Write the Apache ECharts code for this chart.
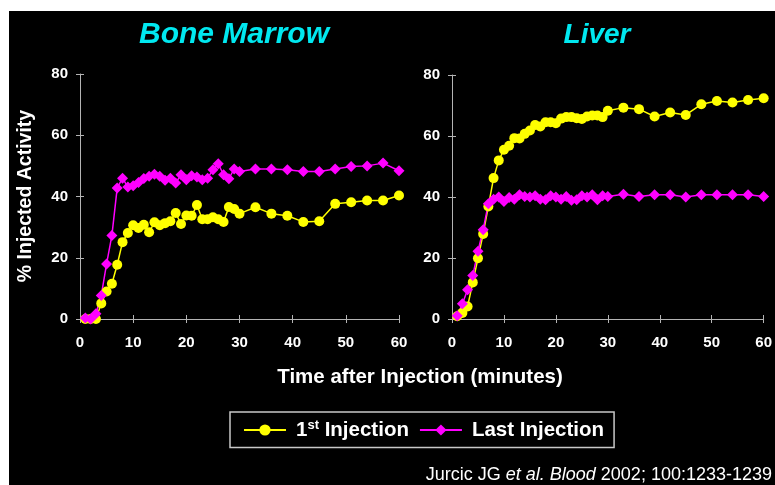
<!DOCTYPE html>
<html>
<head>
<meta charset="utf-8">
<script src="https://cdn.jsdelivr.net/npm/echarts@6/dist/echarts.min.js"></script>
<style>
  html, body { margin: 0; padding: 0; background: #fff; }
  #main { position: absolute; left: 9px; top: 11px; width: 766px; height: 474px; background: #000; }
</style>
</head>
<body>
<div id="main"></div>
<script>
// sample times (minutes)
var times = [1, 2, 3, 4, 5, 6, 7, 8, 9, 10, 11, 12, 13, 14, 15, 16, 17, 18, 19, 20,
    21, 22, 23, 24, 25, 26, 27, 28, 29, 30, 33, 36, 39, 42, 45, 48, 51, 54, 57, 60];
var xTicks = [0, 10, 20, 30, 40, 50, 60];
var yTicks = [0, 20, 40, 60, 80];

// Bone Marrow
var marrowFirst = [0, 0, 0, 5.1, 9, 11.5, 17.7, 25.1, 28.1, 30.6, 29.7, 30.8, 28.3, 31.6, 30.6, 31.3, 31.9, 34.6, 31, 33.8,
    33.7, 37.2, 32.6, 32.6, 33.2, 32.6, 31.7, 36.6, 35.9, 34.4, 36.5, 34.4, 33.7, 31.7, 31.9, 37.6, 38.1, 38.7, 38.7, 40.3];
var marrowLast = [0.3, 0, 1.7, 7.7, 18, 27.3, 42.8, 46, 43.1, 43.5, 44.6, 45.9, 46.6, 47.3, 46.6, 45.3, 46, 44.4, 47.1, 45.5,
    46.8, 46.4, 45.5, 46, 48.7, 50.7, 47.1, 45.8, 49, 48.2, 49, 49, 48.7, 48.2, 48.2, 49, 49.8, 50, 50.9, 48.4];

// Liver
var liverFirst = [0.9, 2, 4.1, 12, 19.9, 27.9, 36.9, 46.2, 52, 55.5, 56.8, 59.3, 59.2, 60.7, 61.8, 63.6, 63.1, 64.5, 64.5, 64.2,
    65.7, 66.2, 66.2, 65.8, 65.6, 66.4, 66.7, 66.7, 66.2, 68.3, 69.3, 68.8, 66.4, 67.7, 66.9, 70.4, 71.5, 71, 71.8, 72.4];
var liverLast = [1.1, 5, 9.6, 14.3, 22.2, 29.3, 37.8, 39.3, 40, 38.5, 39.8, 39.3, 40.7, 40.2, 40, 40.4, 39.3, 39.1, 40.4, 40,
    39.3, 40.2, 38.9, 39.1, 40.4, 40, 40.7, 39.1, 40.4, 40.2, 40.9, 40.2, 40.7, 40.7, 40, 40.7, 40.7, 40.7, 40.7, 40.2];

var YELLOW = '#ffff00', MAGENTA = '#ff00ff', AXIS = '#b4b4b4', CYAN = '#00e8f0';
var FONT = 'Liberation Sans, Arial, sans-serif';
var OX = 9, OY = 11; // chart div offset in page

function pairs(xs, ys) {
    var out = [];
    for (var i = 0; i < xs.length; i++) out.push([xs[i], ys[i]]);
    return out;
}

var chart = echarts.init(document.getElementById('main'));

var grids = [
    {left: 80 - OX, top: 74 - OY, width: 319, height: 245},
    {left: 452 - OX, top: 75 - OY, width: 315, height: 244}
];

// two x axes / y axes per grid: one with outside ticks + labels, one with inside ticks, so ticks cross the line
var xAxes = [], yAxes = [];
for (var g = 0; g < 2; g++) {
    for (var k = 0; k < 2; k++) {
        xAxes.push({
            type: 'value', gridIndex: g, min: 0, max: 60, interval: 10, position: 'bottom',
            axisLine: {show: k == 0, lineStyle: {color: AXIS, width: 1}},
            axisTick: {show: true, inside: k == 1, length: 4, lineStyle: {color: AXIS}},
            axisLabel: {show: k == 0, margin: 16, color: '#fff', fontWeight: 'bold', fontSize: 15, fontFamily: FONT},
            splitLine: {show: false}
        });
        yAxes.push({
            type: 'value', gridIndex: g, min: 0, max: 80, interval: 20, position: 'left',
            axisLine: {show: k == 0, lineStyle: {color: AXIS, width: 1}},
            axisTick: {show: true, inside: k == 1, length: 4, lineStyle: {color: AXIS}},
            axisLabel: {show: k == 0, margin: 12, color: '#fff', fontWeight: 'bold', fontSize: 15, fontFamily: FONT},
            splitLine: {show: false}
        });
    }
}

function lineSeries(name, idx, color, symbol, size, data) {
    return {
        name: name, type: 'line', xAxisIndex: idx, yAxisIndex: idx,
        data: data, symbol: symbol, symbolSize: size, showSymbol: true,
        lineStyle: {color: color, width: 1.5},
        itemStyle: {color: color},
        animation: false
    };
}

var option = {
    backgroundColor: '#000',
    animation: false,
    grid: grids,
    xAxis: xAxes,
    yAxis: yAxes,
    legend: {
        data: ['1st Injection', 'Last Injection'],
        left: 230 - OX, top: 412 - OY,
        padding: [7, 10, 7, 13],
        itemGap: 10, itemWidth: 42, itemHeight: 14,
        borderColor: '#c8c8c8', borderWidth: 1.5,
        selectedMode: false,
        formatter: function (name) {
            if (name == '1st Injection') return '{b|1}{s|st}{b| Injection}';
            return '{b|' + name + '}';
        },
        textStyle: {
            color: '#fff', fontSize: 20.5, fontWeight: 'bold', fontFamily: FONT, padding: [0, 0, 0, 5],
            rich: {
                b: {color: '#fff', fontSize: 20.5, fontWeight: 'bold', fontFamily: FONT},
                s: {color: '#fff', fontSize: 13, fontWeight: 'bold', fontFamily: FONT, verticalAlign: 'top', padding: [0, 0, 9, 0]}
            }
        }
    },
    graphic: [
        {type: 'text', x: 234 - OX, y: 35 - OY,
            style: {text: 'Bone Marrow', fill: CYAN, fontSize: 30, fontWeight: 'bold', fontStyle: 'italic',
                fontFamily: FONT, align: 'center', verticalAlign: 'middle'}},
        {type: 'text', x: 597 - OX, y: 35 - OY,
            style: {text: 'Liver', fill: CYAN, fontSize: 28, fontWeight: 'bold', fontStyle: 'italic',
                fontFamily: FONT, align: 'center', verticalAlign: 'middle'}},
        {type: 'text', x: 26 - OX, y: 196 - OY, rotation: Math.PI / 2,
            style: {text: '% Injected Activity', fill: '#fff', fontSize: 19.5, fontWeight: 'bold', fontFamily: FONT,
                align: 'center', verticalAlign: 'middle'}},
        {type: 'text', x: 420 - OX, y: 377 - OY,
            style: {text: 'Time after Injection (minutes)', fill: '#fff', fontSize: 20.5, fontWeight: 'bold',
                fontFamily: FONT, align: 'center', verticalAlign: 'middle'}},
        {type: 'text', x: 772 - OX, y: 475 - OY,
            style: {text: 'Jurcic JG {i|et al.} {i|Blood} 2002; 100:1233-1239', fill: '#fff', fontSize: 18,
                fontFamily: FONT, align: 'right', verticalAlign: 'middle',
                rich: {i: {fontStyle: 'italic', fontSize: 18, fill: '#fff', fontFamily: FONT}}}}
    ],
    series: [
        lineSeries('1st Injection', 0, YELLOW, 'circle', 10, pairs(times, marrowFirst)),
        lineSeries('Last Injection', 0, MAGENTA, 'diamond', 11, pairs(times, marrowLast)),
        lineSeries('1st Injection', 2, YELLOW, 'circle', 10, pairs(times, liverFirst)),
        lineSeries('Last Injection', 2, MAGENTA, 'diamond', 11, pairs(times, liverLast))
    ]
};
chart.setOption(option);
</script>
</body>
</html>
